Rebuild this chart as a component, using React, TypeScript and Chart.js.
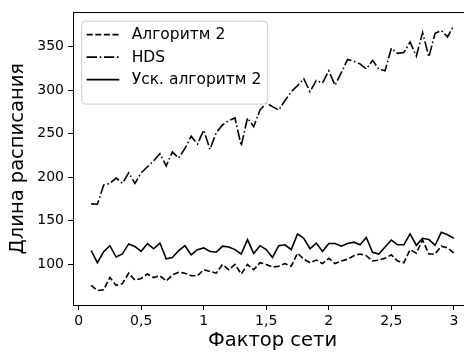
import React, { useEffect, useRef } from "react";
import { Chart, registerables } from "chart.js";

Chart.register(...registerables);

const factors = [
  0.1, 0.15, 0.2, 0.25, 0.3, 0.35, 0.4, 0.45, 0.5, 0.55,
  0.6, 0.65, 0.7, 0.75, 0.8, 0.85, 0.9, 0.95, 1.0, 1.05,
  1.1, 1.15, 1.2, 1.25, 1.3, 1.35, 1.4, 1.45, 1.5, 1.55,
  1.6, 1.65, 1.7, 1.75, 1.8, 1.85, 1.9, 1.95, 2.0, 2.05,
  2.1, 2.15, 2.2, 2.25, 2.3, 2.35, 2.4, 2.45, 2.5, 2.55,
  2.6, 2.65, 2.7, 2.75, 2.8, 2.85, 2.9, 2.95, 3.0,
];

const algo2 = [
  76, 70, 71, 85, 76, 78, 90, 82, 84, 89,
  85, 87, 81, 88, 91, 90, 87, 87, 94, 92,
  90, 100, 94, 100, 89, 100, 94, 102, 100, 97,
  98, 101, 98, 113, 106, 102, 105, 101, 107, 101,
  104, 106, 110, 112, 110, 104, 105, 107, 111, 104,
  102, 117, 113, 128, 112, 112, 121, 119, 113,
];

const hds = [
  169.5, 169, 191, 193, 199, 193, 205, 193, 205, 212,
  219, 227, 213, 229, 222, 233, 247, 238, 254, 232,
  251, 260, 265, 268, 236, 268, 258, 277, 285, 281,
  277, 288, 298, 305, 313, 298, 311, 308, 322, 305.5,
  320, 335, 333, 330, 324, 334, 324, 322, 348, 342,
  343, 355, 339, 366, 338, 365, 368, 361, 374,
];

const accel2 = [
  116, 102, 114.5, 121.5, 108.5, 112, 123.5, 120.5, 115, 124,
  118, 124.5, 106.5, 108, 116, 121.5, 111, 117, 119, 115,
  114, 121, 120, 117, 112, 128.5, 112.5, 121.5, 117, 108,
  121.5, 122.5, 117, 135, 130, 118, 124.5, 115, 124, 124,
  121, 124, 125.5, 122.5, 131, 114, 112, 120, 128, 122.5,
  122.5, 135, 122, 130, 128.5, 122, 137, 134, 130,
];

const xTicks = [0, 0.5, 1, 1.5, 2, 2.5, 3];
const yTicks = [100, 150, 200, 250, 300, 350];

const seriesLabels = ["Алгоритм 2", "HDS", "Уск. алгоритм 2"];
const xTitle = "Фактор сети";
const yTitle = "Длина расписания";

const FONT = "'DejaVu Sans', sans-serif";
const DASHED = [6, 2.6];
const DASHDOT = [10.4, 2.6, 1.6, 2.6];

function toPoints(ys: number[]) {
  return ys.map((y, i) => ({ x: factors[i], y }));
}

const framePlugin = {
  id: "frame",
  afterDraw(chart: any) {
    const { ctx, chartArea } = chart;
    const { left, top, right, bottom } = chartArea;
    ctx.save();
    ctx.strokeStyle = "#000";
    ctx.lineWidth = 1;
    ctx.beginPath();
    ctx.moveTo(Math.round(left) + 0.5, Math.round(top) + 0.5);
    ctx.lineTo(Math.round(right) + 0.5, Math.round(top) + 0.5);
    ctx.lineTo(Math.round(right) + 0.5, Math.round(bottom) + 0.5);
    ctx.stroke();
    ctx.restore();
  },
};

const legendPlugin = {
  id: "boxLegend",
  afterDraw(chart: any) {
    const { ctx, chartArea } = chart;
    const bx = chartArea.left + 8.7;
    const by = chartArea.top + 8.7;
    const bw = 186;
    const bh = 83;
    const r = 4;
    ctx.save();
    ctx.beginPath();
    ctx.moveTo(bx + r, by);
    ctx.lineTo(bx + bw - r, by);
    ctx.arcTo(bx + bw, by, bx + bw, by + r, r);
    ctx.lineTo(bx + bw, by + bh - r);
    ctx.arcTo(bx + bw, by + bh, bx + bw - r, by + bh, r);
    ctx.lineTo(bx + r, by + bh);
    ctx.arcTo(bx, by + bh, bx, by + bh - r, r);
    ctx.lineTo(bx, by + r);
    ctx.arcTo(bx, by, bx + r, by, r);
    ctx.closePath();
    ctx.fillStyle = "rgba(255,255,255,0.8)";
    ctx.fill();
    ctx.strokeStyle = "#cccccc";
    ctx.lineWidth = 1;
    ctx.stroke();

    const rows = [13.5, 36, 58.5];
    chart.data.datasets.forEach((ds: any, i: number) => {
      const y = by + rows[i];
      ctx.beginPath();
      ctx.setLineDash(ds.borderDash || []);
      ctx.strokeStyle = "#000";
      ctx.lineWidth = ds.borderWidth;
      ctx.moveTo(bx + 5, y);
      ctx.lineTo(bx + 37.6, y);
      ctx.stroke();
      ctx.setLineDash([]);
      ctx.fillStyle = "#000";
      ctx.font = `15.5px ${FONT}`;
      ctx.textBaseline = "middle";
      ctx.textAlign = "left";
      ctx.fillText(ds.label, bx + 50, y + 0.5);
    });
    ctx.restore();
  },
};

export default function App() {
  const canvasRef = useRef<HTMLCanvasElement | null>(null);

  useEffect(() => {
    if (!canvasRef.current) return;
    Chart.defaults.font.family = FONT;
    Chart.defaults.color = "#000";
    const common = {
      fill: false,
      borderColor: "#000",
      borderWidth: 1.6,
      pointRadius: 0,
      tension: 0,
      borderCapStyle: "butt" as const,
    };
    const chart = new Chart(canvasRef.current, {
      type: "line",
      data: {
        datasets: [
          { ...common, label: seriesLabels[0], data: toPoints(algo2), borderDash: DASHED },
          { ...common, label: seriesLabels[1], data: toPoints(hds), borderDash: DASHDOT },
          { ...common, label: seriesLabels[2], data: toPoints(accel2), borderDash: [] },
        ],
      },
      options: {
        animation: false,
        responsive: false,
        devicePixelRatio: 1,
        layout: { padding: { top: 3, right: 2, left: 0, bottom: 0 } },
        plugins: { legend: { display: false }, tooltip: { enabled: false } },
        scales: {
          x: {
            type: "linear",
            min: -0.045,
            max: 3.145,
            afterFit: (s: any) => {
              s.height = 50;
            },
            afterBuildTicks: (s: any) => {
              s.ticks = xTicks.map((v) => ({ value: v }));
            },
            grid: { drawOnChartArea: false, drawTicks: true, tickLength: 5, tickColor: "#000", tickWidth: 1 },
            border: { display: true, color: "#000", width: 1 },
            ticks: {
              font: { size: 14, family: FONT },
              color: "#000",
              padding: 3,
              maxRotation: 0,
              autoSkip: false,
              callback: (v: any) => String(v).replace(".", ","),
            },
            title: {
              display: true,
              text: xTitle,
              font: { size: 19.5, family: FONT },
              color: "#000",
              padding: { top: 0, bottom: 2 },
            },
          },
          y: {
            type: "linear",
            min: 53.5,
            max: 389,
            afterFit: (s: any) => {
              s.width = 73;
            },
            afterBuildTicks: (s: any) => {
              s.ticks = yTicks.map((v) => ({ value: v }));
            },
            grid: { drawOnChartArea: false, drawTicks: true, tickLength: 5, tickColor: "#000", tickWidth: 1 },
            border: { display: true, color: "#000", width: 1 },
            ticks: {
              font: { size: 14, family: FONT },
              color: "#000",
              padding: 4,
              autoSkip: false,
            },
            title: {
              display: true,
              text: yTitle,
              font: { size: 19.5, family: FONT },
              color: "#000",
              padding: { top: 6, bottom: 0 },
            },
          },
        },
      },
      plugins: [framePlugin, legendPlugin],
    });
    return () => chart.destroy();
  }, []);

  return (
    <div
      style={{
        position: "fixed",
        left: 0,
        top: 0,
        width: 464,
        height: 355,
        overflow: "hidden",
        background: "#fff",
      }}
    >
      <canvas ref={canvasRef} width={474} height={355} style={{ display: "block" }} />
    </div>
  );
}
